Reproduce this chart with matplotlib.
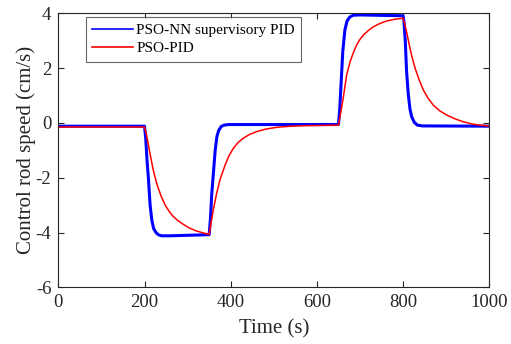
"""Control rod speed: PSO-NN supervisory PID vs PSO-PID"""

import matplotlib
matplotlib.use("Agg")
import matplotlib.pyplot as plt

# valors llegits de la figura (temps en s, velocitat en cm/s)
nn_time = [0, 200, 203, 206, 209, 213, 217, 221, 227, 233, 240, 260, 350,
           353, 356, 360, 364, 368, 372, 378, 385, 395, 650,
           653, 656, 660, 665, 670, 676, 684, 700, 800,
           802, 805, 808, 812, 816, 820, 826, 833, 845, 1000]
nn_speed = [-0.12, -0.12, -0.6, -1.4, -2.0, -3.0, -3.55, -3.85, -4.01, -4.09, -4.12, -4.12, -4.08,
            -3.5, -2.6, -1.8, -1.0, -0.5, -0.28, -0.13, -0.08, -0.06, -0.06,
            0.5, 1.4, 2.6, 3.4, 3.72, 3.86, 3.93, 3.94, 3.91,
            3.7, 3.0, 1.9, 1.05, 0.5, 0.22, 0.02, -0.08, -0.11, -0.12]

pid_time = [0, 200, 205, 209, 215, 220, 228, 238, 248, 258, 267, 277, 286, 296, 306,
            320, 335, 350, 355, 360, 367, 375, 387, 396, 406, 417, 429, 444, 460,
            480, 507, 540, 576, 620, 650, 655, 661, 669, 677, 685, 692, 700, 708,
            720, 731, 745, 762, 780, 800, 804, 808, 816, 822, 828, 837, 847, 858,
            870, 885, 901, 920, 940, 960, 978, 1000]
pid_speed = [-0.15, -0.15, -0.45, -0.8, -1.3, -1.7, -2.2, -2.65, -3.0, -3.25, -3.42,
             -3.56, -3.66, -3.76, -3.85, -3.94, -4.01, -4.07, -3.6, -3.15, -2.6,
             -2.08, -1.54, -1.2, -0.93, -0.72, -0.56, -0.42, -0.32, -0.23, -0.16,
             -0.12, -0.1, -0.09, -0.08, 0.35, 0.9, 1.75, 2.23, 2.58, 2.84, 3.05,
             3.21, 3.38, 3.51, 3.62, 3.72, 3.78, 3.82, 3.6, 3.33, 2.72, 2.33, 1.99,
             1.58, 1.2, 0.9, 0.65, 0.44, 0.29, 0.15, 0.04, -0.04, -0.08, -0.11]

x_ticks = [0, 200, 400, 600, 800, 1000]
y_ticks = [-6, -4, -2, 0, 2, 4]

plt.rcParams["font.family"] = ["Liberation Serif", "DejaVu Serif"]
plt.rcParams["axes.unicode_minus"] = False

fig = plt.figure(figsize=(5.11, 3.44), dpi=100)
ax = fig.add_axes([58.3 / 511, (344 - 287.3) / 344, 431 / 511, 274 / 344])

ax.plot(nn_time, nn_speed, color="#0000ff", linewidth=2.2,
        label="PSO-NN supervisory PID")
ax.plot(pid_time, pid_speed, color="#ff0000", linewidth=1.1, label="PSO-PID")

ax.set_xlim(0, 1000)
ax.set_ylim(-6, 4)
ax.set_xticks(x_ticks)
ax.set_yticks(y_ticks)
ax.tick_params(direction="in", top=True, right=True, length=4, width=0.8,
               labelsize=13.5, colors="#262626", pad=5)
for side in ax.spines.values():
    side.set_linewidth(0.8)
    side.set_color("#262626")

ax.set_xlabel("Time (s)", fontsize=15, color="#262626", labelpad=6)
ax.set_ylabel("Control rod speed (cm/s)", fontsize=15, color="#262626", labelpad=0)

# llegenda amb marc quadrat i línies primes
leg = ax.legend(loc="upper left", bbox_to_anchor=(0.064, 0.985), fontsize=11,
                frameon=True, fancybox=False, borderaxespad=0, handlelength=2.7,
                handletextpad=0.2, borderpad=0.4, labelspacing=0.3)
leg.get_frame().set_edgecolor("#404040")
leg.get_frame().set_linewidth(0.8)
for line in leg.get_lines():
    line.set_linewidth(1.2)

fig.savefig("out.png", dpi=100)
